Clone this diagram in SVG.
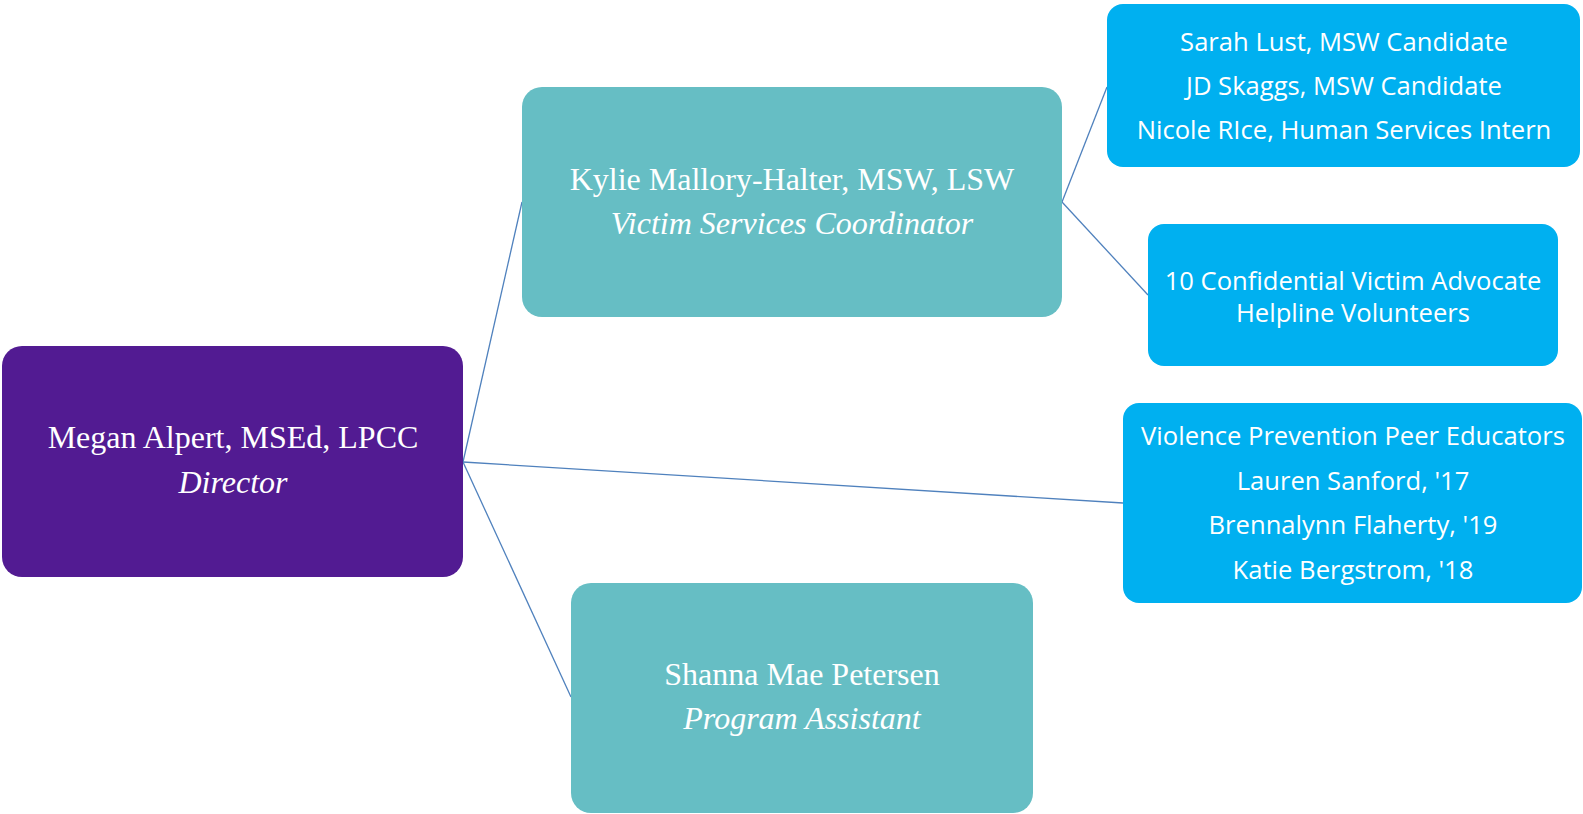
<svg xmlns="http://www.w3.org/2000/svg" width="1583" height="814" viewBox="0 0 1583 814">
<style>
.conn { stroke: #4F81BD; stroke-width: 1.3; fill: none; }
.dir { fill: #521B92; }
.teal { fill: #66BEC4; }
.blue { fill: #00B0F0; }
.serif { font-family: "Liberation Serif", "Times New Roman", serif; font-size: 32px; fill: #FFFFFF; text-anchor: middle; }
.it { font-style: italic; }
.sans { font-family: "Open Sans", "Liberation Sans", sans-serif; font-size: 25.6px; fill: #FFFFFF; text-anchor: middle; }
</style>
<rect width="1583" height="814" fill="#FFFFFF"/>
<g id="connectors">
  <line class="conn" x1="463" y1="462" x2="522" y2="202"/>
  <line class="conn" x1="463" y1="462" x2="1123" y2="503"/>
  <line class="conn" x1="463" y1="462" x2="571" y2="697"/>
  <line class="conn" x1="1062" y1="202" x2="1107" y2="87"/>
  <line class="conn" x1="1062" y1="202" x2="1148" y2="295"/>
</g>
<g id="director">
  <rect class="dir" x="2" y="346" width="461" height="231" rx="20"/>
  <text class="serif" x="233" y="448">Megan Alpert, MSEd, LPCC</text>
  <text class="serif it" x="233" y="493">Director</text>
</g>
<g id="kylie">
  <rect class="teal" x="522" y="87" width="540" height="230" rx="20"/>
  <text class="serif" x="792" y="190">Kylie Mallory-Halter, MSW, LSW</text>
  <text class="serif it" x="792" y="234">Victim Services Coordinator</text>
</g>
<g id="shanna">
  <rect class="teal" x="571" y="583" width="462" height="230" rx="20"/>
  <text class="serif" x="802" y="685">Shanna Mae Petersen</text>
  <text class="serif it" x="802" y="729">Program Assistant</text>
</g>
<g id="interns">
  <rect class="blue" x="1107" y="4" width="473" height="163" rx="16"/>
  <text class="sans" x="1344" y="51">Sarah Lust, MSW Candidate</text>
  <text class="sans" x="1344" y="95">JD Skaggs, MSW Candidate</text>
  <text class="sans" x="1344" y="139">Nicole RIce, Human Services Intern</text>
</g>
<g id="helpline">
  <rect class="blue" x="1148" y="224" width="410" height="142" rx="16"/>
  <text class="sans" x="1353" y="290">10 Confidential Victim Advocate</text>
  <text class="sans" x="1353" y="322">Helpline Volunteers</text>
</g>
<g id="peers">
  <rect class="blue" x="1123" y="403" width="459" height="200" rx="16"/>
  <text class="sans" x="1353" y="445">Violence Prevention Peer Educators</text>
  <text class="sans" x="1353" y="490">Lauren Sanford, '17</text>
  <text class="sans" x="1353" y="534">Brennalynn Flaherty, '19</text>
  <text class="sans" x="1353" y="579">Katie Bergstrom, '18</text>
</g>
</svg>
